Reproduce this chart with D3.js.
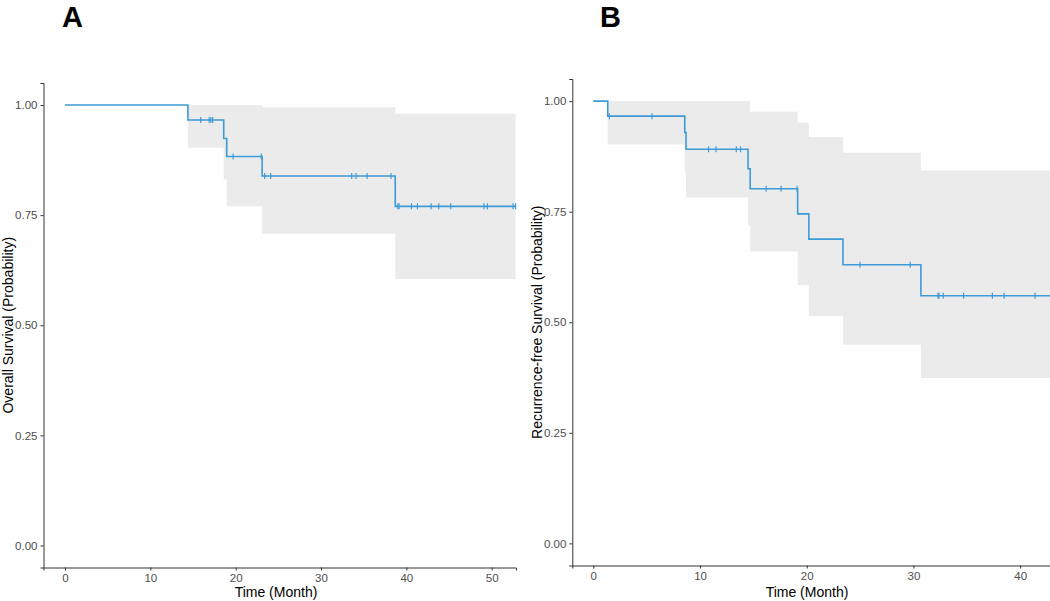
<!DOCTYPE html>
<html>
<head>
	<meta charset="utf-8">
	<script src="https://cdn.jsdelivr.net/npm/d3@7"></script>
	<title>Survival curves</title>
</head>
<style>
	body { margin: 0; background: #fff; }
	svg text { font-family: "Liberation Sans", Arial, sans-serif; }
	.axis path, .axis line { stroke: #333; stroke-width: 1px; }
	.axis text { fill: #4d4d4d; font-size: 11.5px; }
	.band { fill: #ebebeb; }
	.km { fill: none; stroke: #3d9bd8; stroke-width: 1.6px; }
	.cens { stroke: #3d9bd8; stroke-width: 1.2px; }
	.ttl { font-size: 14px; fill: #000; }
	.tag { font-size: 29px; font-weight: bold; fill: #000; }
</style>
<body>
	<svg id="chart" width="1050" height="601"></svg>
</body>
</html>
<script>
	// panel A - overall survival
	var osTime  = [0, 14.4, 18.6, 18.95, 23.1, 38.7];
	var osSurv  = [1, 0.966, 0.924, 0.883, 0.839, 0.770];
	var osUpper = [1, 1, 1, 1, 0.995, 0.98];
	var osLower = [1, 0.903, 0.831, 0.77, 0.708, 0.605];
	var osEnd = 52.8;
	var osCensor = [15.9, 16.9, 17.1, 17.3, 19.7, 23.0, 23.4, 24.1, 33.6, 34.1, 35.4, 38.2,
									39.0, 39.15, 40.6, 41.3, 42.9, 43.8, 45.2, 49.1, 49.5, 52.5, 52.8];
	var osXTicks = [0, 10, 20, 30, 40, 50];

	// panel B - recurrence-free survival
	var rfsTime  = [0, 1.35, 8.57, 8.69, 14.5, 14.7, 19.15, 20.2, 23.4, 30.7];
	var rfsSurv  = [1, 0.966, 0.929, 0.891, 0.847, 0.802, 0.745, 0.688, 0.630, 0.560];
	var rfsUpper = [1, 1, 1, 1, 1, 0.976, 0.951, 0.919, 0.883, 0.843];
	var rfsLower = [1, 0.902, 0.839, 0.782, 0.718, 0.660, 0.584, 0.514, 0.449, 0.374];
	var rfsEnd = 42.8;
	var rfsCensor = [1.5, 5.5, 10.8, 11.5, 13.4, 13.8, 16.2, 17.6, 19.1, 25.0, 29.7,
									 32.3, 32.4, 32.8, 34.7, 37.4, 38.5, 41.4];
	var rfsXTicks = [0, 10, 20, 30, 40];

	var yTicks = [0, 0.25, 0.5, 0.75, 1];

	var svg = d3.select("#chart");

	function drawPanel(p) {
		var x = d3.scaleLinear().domain(p.xDomain).range(p.xRange);
		var y = d3.scaleLinear().domain([-0.05, 1.05]).range(p.yRange);
		var g = svg.append("g");

		// confidence band, starts at first event
		var bandData = p.time.map(function(t, i) {
			return {t: t, lo: p.lower[i], hi: p.upper[i]};
		}).slice(1);
		bandData.push({t: p.end, lo: p.lower[p.lower.length - 1], hi: p.upper[p.upper.length - 1]});

		var area = d3.area()
				.curve(d3.curveStepAfter)
				.x(function(d) { return x(d.t); })
				.y0(function(d) { return y(d.lo); })
				.y1(function(d) { return y(d.hi); });

		g.append("path")
				.datum(bandData)
				.attr("class", "band")
				.attr("d", area);

		// step curve
		var steps = p.time.map(function(t, i) { return {t: t, s: p.surv[i]}; });
		steps.push({t: p.end, s: p.surv[p.surv.length - 1]});

		var line = d3.line()
				.curve(d3.curveStepAfter)
				.x(function(d) { return x(d.t); })
				.y(function(d) { return y(d.s); });

		g.append("path")
				.datum(steps)
				.attr("class", "km")
				.attr("d", line);

		// survival value at a censor time
		function survAt(t) {
			var s = 1;
			p.time.forEach(function(tt, i) { if (tt <= t) s = p.surv[i]; });
			return s;
		}

		g.selectAll(".cens")
				.data(p.censor)
			.enter().append("line")
				.attr("class", "cens")
				.attr("x1", function(d) { return x(d); })
				.attr("x2", function(d) { return x(d); })
				.attr("y1", function(d) { return y(survAt(d)) - 3; })
				.attr("y2", function(d) { return y(survAt(d)) + 3; });

		// axes
		g.append("g")
				.attr("class", "axis")
				.attr("transform", "translate(0," + p.yRange[0] + ")")
				.call(d3.axisBottom(x).tickValues(p.xTicks).tickSizeOuter(0).tickSize(3).tickPadding(3)
					.tickFormat(d3.format("d")));

		g.append("g")
				.attr("class", "axis")
				.attr("transform", "translate(" + p.xRange[0] + ",0)")
				.call(d3.axisLeft(y).tickValues(yTicks).tickSizeOuter(0).tickSize(3).tickPadding(3)
					.tickFormat(d3.format(".2f")));

		// titles
		g.append("text")
				.attr("class", "ttl")
				.attr("text-anchor", "middle")
				.attr("x", p.xTitleX)
				.attr("y", 597)
				.text("Time (Month)");

		g.append("text")
				.attr("class", "ttl")
				.attr("text-anchor", "middle")
				.attr("transform", "translate(" + p.yTitleX + "," + ((p.yRange[0] + p.yRange[1]) / 2) + ") rotate(-90)")
				.text(p.yTitle);

		g.append("text")
				.attr("class", "tag")
				.attr("x", p.tagX)
				.attr("y", 27)
				.text(p.tag);
	}

	drawPanel({
		time: osTime, surv: osSurv, upper: osUpper, lower: osLower, end: osEnd, censor: osCensor,
		xTicks: osXTicks, xDomain: [-2.52, 52.85], xRange: [43.5, 516], yRange: [567.5, 83],
		xTitleX: 276, yTitleX: 13, yTitle: "Overall Survival (Probability)", tag: "A", tagX: 62
	});

	drawPanel({
		time: rfsTime, surv: rfsSurv, upper: rfsUpper, lower: rfsLower, end: rfsEnd, censor: rfsCensor,
		xTicks: rfsXTicks, xDomain: [-1.97, 42.8], xRange: [572.3, 1050], yRange: [565.5, 79],
		xTitleX: 807, yTitleX: 542, yTitle: "Recurrence-free Survival (Probability)", tag: "B", tagX: 600
	});
</script>
